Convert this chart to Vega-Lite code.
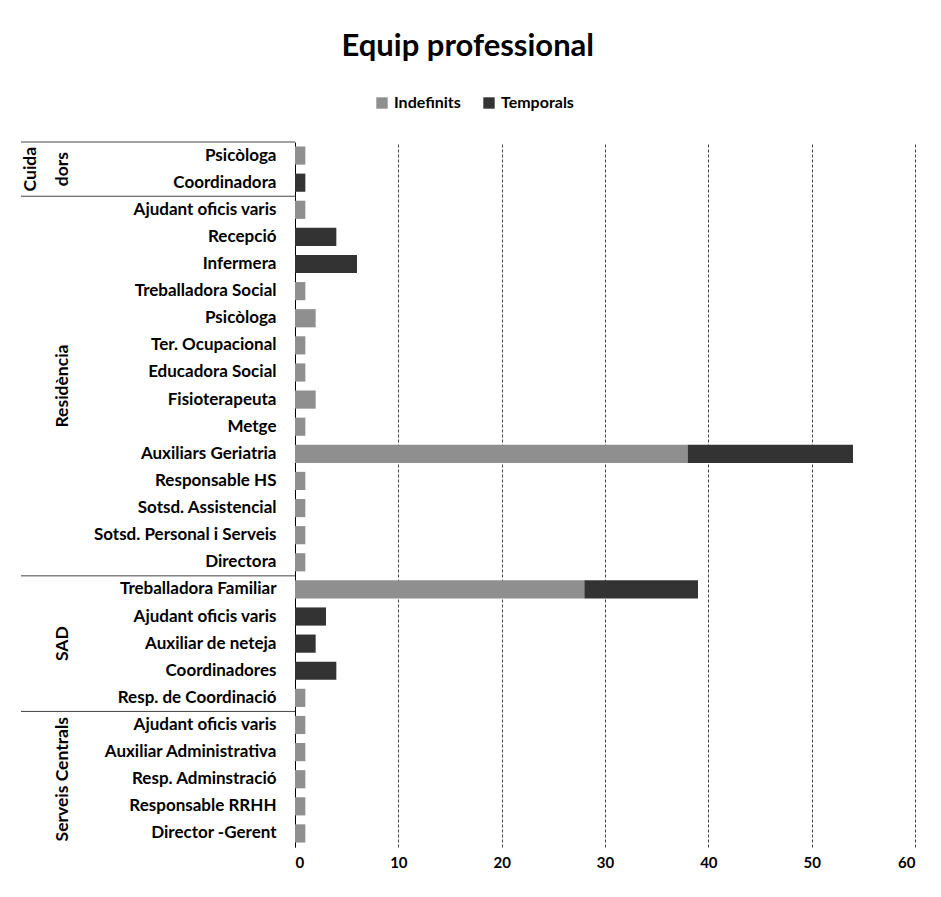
{
  "$schema": "https://vega.github.io/schema/vega-lite/v6.json",
  "padding": {"left": 20, "top": 31, "right": 15, "bottom": 20},
  "background": "white",
  "config": {
    "font": "Lato",
    "view": {"stroke": null},
    "concat": {"spacing": 0}
  },
  "title": {
    "text": "Equip professional",
    "fontSize": 31,
    "fontWeight": "bold",
    "font": "Lato",
    "color": "#000000",
    "anchor": "middle",
    "offset": 32
  },
  "datasets": {
    "equip": [
      {"clau": "Cuidadors|Psicòloga", "grup": "Cuidadors", "tipus": "Indefinits", "n": 1},
      {"clau": "Cuidadors|Coordinadora", "grup": "Cuidadors", "tipus": "Temporals", "n": 1},
      {"clau": "Residència|Ajudant oficis varis", "grup": "Residència", "tipus": "Indefinits", "n": 1},
      {"clau": "Residència|Recepció", "grup": "Residència", "tipus": "Temporals", "n": 4},
      {"clau": "Residència|Infermera", "grup": "Residència", "tipus": "Temporals", "n": 6},
      {"clau": "Residència|Treballadora Social", "grup": "Residència", "tipus": "Indefinits", "n": 1},
      {"clau": "Residència|Psicòloga", "grup": "Residència", "tipus": "Indefinits", "n": 2},
      {"clau": "Residència|Ter. Ocupacional", "grup": "Residència", "tipus": "Indefinits", "n": 1},
      {"clau": "Residència|Educadora Social", "grup": "Residència", "tipus": "Indefinits", "n": 1},
      {"clau": "Residència|Fisioterapeuta", "grup": "Residència", "tipus": "Indefinits", "n": 2},
      {"clau": "Residència|Metge", "grup": "Residència", "tipus": "Indefinits", "n": 1},
      {"clau": "Residència|Auxiliars Geriatria", "grup": "Residència", "tipus": "Indefinits", "n": 38},
      {"clau": "Residència|Auxiliars Geriatria", "grup": "Residència", "tipus": "Temporals", "n": 16},
      {"clau": "Residència|Responsable HS", "grup": "Residència", "tipus": "Indefinits", "n": 1},
      {"clau": "Residència|Sotsd. Assistencial", "grup": "Residència", "tipus": "Indefinits", "n": 1},
      {"clau": "Residència|Sotsd. Personal i Serveis", "grup": "Residència", "tipus": "Indefinits", "n": 1},
      {"clau": "Residència|Directora", "grup": "Residència", "tipus": "Indefinits", "n": 1},
      {"clau": "SAD|Treballadora Familiar", "grup": "SAD", "tipus": "Indefinits", "n": 28},
      {"clau": "SAD|Treballadora Familiar", "grup": "SAD", "tipus": "Temporals", "n": 11},
      {"clau": "SAD|Ajudant oficis varis", "grup": "SAD", "tipus": "Temporals", "n": 3},
      {"clau": "SAD|Auxiliar de neteja", "grup": "SAD", "tipus": "Temporals", "n": 2},
      {"clau": "SAD|Coordinadores", "grup": "SAD", "tipus": "Temporals", "n": 4},
      {"clau": "SAD|Resp. de Coordinació", "grup": "SAD", "tipus": "Indefinits", "n": 1},
      {"clau": "Serveis Centrals|Ajudant oficis varis", "grup": "Serveis Centrals", "tipus": "Indefinits", "n": 1},
      {"clau": "Serveis Centrals|Auxiliar Administrativa", "grup": "Serveis Centrals", "tipus": "Indefinits", "n": 1},
      {"clau": "Serveis Centrals|Resp. Adminstració", "grup": "Serveis Centrals", "tipus": "Indefinits", "n": 1},
      {"clau": "Serveis Centrals|Responsable RRHH", "grup": "Serveis Centrals", "tipus": "Indefinits", "n": 1},
      {"clau": "Serveis Centrals|Director -Gerent", "grup": "Serveis Centrals", "tipus": "Indefinits", "n": 1}
    ],
    "grups": [
      {"grup": "Cuidadors", "etiqueta": "Cuida\ndors", "clau": "Cuidadors|Psicòloga", "inici": "Cuidadors|Psicòloga", "entre": true},
      {"grup": "Residència", "etiqueta": "Residència", "clau": "Residència|Educadora Social", "inici": "Residència|Ajudant oficis varis", "entre": true},
      {"grup": "SAD", "etiqueta": "SAD", "clau": "SAD|Auxiliar de neteja", "inici": "SAD|Treballadora Familiar", "entre": false},
      {"grup": "Serveis Centrals", "etiqueta": "Serveis Centrals", "clau": "Serveis Centrals|Resp. Adminstració", "inici": "Serveis Centrals|Ajudant oficis varis", "entre": false}
    ]
  },
  "resolve": {"scale": {"y": "shared"}},
  "spacing": 0,
  "bounds": "flush",
  "hconcat": [
    {
      "width": 274,
      "height": 705,
      "data": {"name": "grups"},
      "layer": [
        {
          "mark": {"type": "rule", "color": "#444444", "strokeWidth": 1},
          "encoding": {
            "y": {"field": "inici", "type": "nominal", "bandPosition": -0.246, "axis": null}
          }
        },
        {
          "transform": [{"filter": "datum.grup == 'Cuidadors'"}],
          "mark": {"type": "text", "angle": 270, "lineBreak": "\n", "lineHeight": 32, "dy": -127, "fontWeight": "bold", "fontSize": 17.5, "align": "center", "baseline": "middle", "color": "#000000"},
          "encoding": {
            "y": {"field": "clau", "type": "nominal", "bandPosition": 1.246, "axis": null},
            "text": {"field": "etiqueta", "type": "nominal"}
          }
        },
        {
          "transform": [{"filter": "datum.grup == 'Residència'"}],
          "mark": {"type": "text", "angle": 270, "dy": -95, "fontWeight": "bold", "fontSize": 17.5, "align": "center", "baseline": "middle", "color": "#000000"},
          "encoding": {
            "y": {"field": "clau", "type": "nominal", "bandPosition": 1.246, "axis": null},
            "text": {"field": "etiqueta", "type": "nominal"}
          }
        },
        {
          "transform": [{"filter": "!datum.entre"}],
          "mark": {"type": "text", "angle": 270, "dy": -95, "fontWeight": "bold", "fontSize": 17.5, "align": "center", "baseline": "middle", "color": "#000000"},
          "encoding": {
            "y": {"field": "clau", "type": "nominal", "axis": null},
            "text": {"field": "etiqueta", "type": "nominal"}
          }
        }
      ]
    },
    {
      "width": 620,
      "height": 705,
      "data": {"name": "equip"},
      "mark": {"type": "bar"},
      "encoding": {
        "y": {
          "field": "clau",
          "type": "nominal",
          "sort": null,
          "scale": {
            "domain": [
              "Cuidadors|Psicòloga", "Cuidadors|Coordinadora",
              "Residència|Ajudant oficis varis", "Residència|Recepció", "Residència|Infermera", "Residència|Treballadora Social", "Residència|Psicòloga", "Residència|Ter. Ocupacional", "Residència|Educadora Social", "Residència|Fisioterapeuta", "Residència|Metge", "Residència|Auxiliars Geriatria", "Residència|Responsable HS", "Residència|Sotsd. Assistencial", "Residència|Sotsd. Personal i Serveis", "Residència|Directora",
              "SAD|Treballadora Familiar", "SAD|Ajudant oficis varis", "SAD|Auxiliar de neteja", "SAD|Coordinadores", "SAD|Resp. de Coordinació",
              "Serveis Centrals|Ajudant oficis varis", "Serveis Centrals|Auxiliar Administrativa", "Serveis Centrals|Resp. Adminstració", "Serveis Centrals|Responsable RRHH", "Serveis Centrals|Director -Gerent"
            ],
            "paddingInner": 0.33,
            "paddingOuter": 0.165
          },
          "axis": {
            "title": null,
            "labelExpr": "split(datum.value, '|')[1]",
            "labelFontWeight": "bold",
            "labelFontSize": 17,
            "labelColor": "#000000",
            "labelLimit": 400,
            "labelPadding": 19,
            "ticks": false,
            "domainColor": "#000000",
            "domainWidth": 1,
            "grid": false
          }
        },
        "x": {
          "field": "n",
          "type": "quantitative",
          "stack": "zero",
          "scale": {"domain": [0, 60], "nice": false},
          "axis": {
            "title": null,
            "values": [0, 10, 20, 30, 40, 50, 60],
            "grid": true,
            "gridColor": "#444444",
            "gridDash": [3, 2],
            "gridWidth": 1,
            "domain": false,
            "ticks": false,
            "labelFontWeight": "bold",
            "labelFontSize": 15,
            "labelColor": "#000000",
            "labelPadding": 8
          }
        },
        "color": {
          "field": "tipus",
          "type": "nominal",
          "scale": {"domain": ["Indefinits", "Temporals"], "range": ["#8f8f8f", "#333333"]},
          "legend": {
            "title": null,
            "orient": "none",
            "legendX": 353,
            "legendY": -47,
            "direction": "horizontal",
            "symbolType": "square",
            "symbolSize": 130,
            "symbolStrokeWidth": 0,
            "labelFontWeight": "bold",
            "labelFontSize": 16,
            "labelColor": "#000000",
            "labelOffset": 4,
            "columnPadding": 20
          }
        }
      }
    }
  ]
}
